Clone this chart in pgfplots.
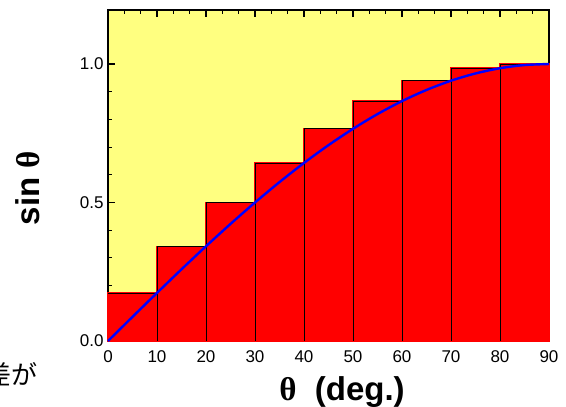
\documentclass[border=0pt]{standalone}
\usepackage{pgfplots}
\pgfplotsset{compat=1.18}
\usepackage{fontspec}
\setmainfont{Liberation Sans}
\newfontfamily\greekserif{Liberation Serif}
\newfontfamily\cjk{Noto Sans CJK JP}
\definecolor{paleyellow}{RGB}{255,255,128}

% sin(theta) sampled at the right end of each 10-degree interval
\pgfplotstableread{
x   y
0   0.1736
10  0.3420
20  0.5000
30  0.6428
40  0.7660
50  0.8660
60  0.9397
70  0.9848
80  1.0000
90  1.0000
}\bars

% inner edges between neighbouring bars (height of the taller one)
\pgfplotstableread{
x   y
10  0.3420
20  0.5000
30  0.6428
40  0.7660
50  0.8660
60  0.9397
70  0.9848
80  1.0000
}\edges

% sin(theta) every 5 degrees
\pgfplotstableread{
x   y
0   0.0000
5   0.0872
10  0.1736
15  0.2588
20  0.3420
25  0.4226
30  0.5000
35  0.5736
40  0.6428
45  0.7071
50  0.7660
55  0.8192
60  0.8660
65  0.9063
70  0.9397
75  0.9659
80  0.9848
85  0.9962
90  1.0000
}\curve

\begin{document}
\begin{tikzpicture}[x=1pt,y=1pt]
\begin{axis}[
  at={(0,0)}, anchor=south west,
  scale only axis, width=441pt, height=331pt,
  xmin=0, xmax=90, ymin=0, ymax=1.195,
  clip=false,
  set layers, axis on top=false,
  axis background/.style={fill=paleyellow},
  axis line style={line width=1.4pt},
  tick align=inside,
  major tick length=7pt, minor tick length=4.5pt,
  every tick/.style={black, line width=1.1pt},
  xtick={0,10,...,90}, minor x tick num=2,
  ytick={0,0.5,1}, minor y tick num=4,
  /pgf/number format/assume math mode=true,
  tick label style={font=\fontsize{17}{18}\selectfont},
  yticklabel={\pgfmathprintnumber[fixed,precision=1,zerofill]{\tick}},
  xticklabel style={yshift=-6pt},
  yticklabel style={xshift=-1pt},
]
% red bars; the red edge covers the axis lines where the bars touch them
\addplot[ybar interval, fill=red, draw=red, line width=1.5pt] table[x=x,y=y] {\bars};
% thin outline: bar tops and the edges between bars
\addplot[const plot, black, line width=0.8pt] table[x=x,y=y] {\bars};
\addplot[ycomb, black, line width=0.8pt] table[x=x,y=y] {\edges};
% sin(theta)
\addplot[blue, line width=2.4pt, smooth] table[x=x,y=y] {\curve};
\end{axis}
\node[rotate=90, font=\fontsize{33}{36}\selectfont\bfseries] at (-80,153) {sin {\greekserif θ}};
\node[font=\fontsize{33}{36}\selectfont\bfseries] at (234,-51) {{\greekserif θ}\ \ (deg.)};
\node[anchor=east, font=\fontsize{26}{28}\selectfont\cjk] at (-67,-34) {差が};
% page frame
\pgfresetboundingbox
\useasboundingbox (-108,-66) rectangle (458,341);
\end{tikzpicture}
\end{document}
